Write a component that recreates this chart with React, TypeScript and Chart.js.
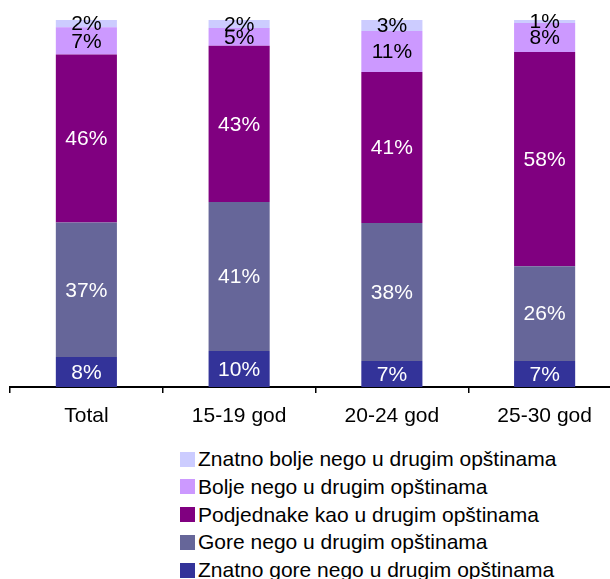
import React, { useEffect, useRef } from "react";
import { Chart, registerables } from "chart.js";

Chart.register(...registerables);

const categories = ["Total", "15-19 god", "20-24 god", "25-30 god"];
const znatnoGore = [8.2, 9.8, 7.1, 7.1];
const gore = [36.6, 40.6, 37.6, 25.8];
const podjednake = [45.8, 42.6, 41.1, 58.4];
const bolje = [7.4, 4.8, 11.2, 7.9];
const znatnoBolje = [2.0, 2.2, 3.0, 0.8];

const seriesNames = [
  "Znatno gore nego u drugim opštinama",
  "Gore nego u drugim opštinama",
  "Podjednake kao u drugim opštinama",
  "Bolje nego u drugim opštinama",
  "Znatno bolje nego u drugim opštinama",
];
const seriesColors = ["#333399", "#666699", "#800080", "#CC99FF", "#CCCCFF"];
const labelColors = ["#ffffff", "#ffffff", "#ffffff", "#000000", "#000000"];

const FONT = '"Liberation Sans", Arial, sans-serif';

const segLabels = {
  id: "segLabels",
  afterDatasetsDraw(chart: any) {
    const ctx = chart.ctx;
    ctx.save();
    ctx.font = `21px ${FONT}`;
    ctx.textAlign = "center";
    ctx.textBaseline = "middle";
    chart.data.datasets.forEach((ds: any, i: number) => {
      const meta = chart.getDatasetMeta(i);
      meta.data.forEach((el: any, j: number) => {
        const v = ds.data[j];
        const p = el.getProps(["x", "y", "base"], true);
        ctx.fillStyle = labelColors[i];
        ctx.fillText(Math.round(v) + "%", p.x, (p.y + p.base) / 2 + 1);
      });
    });
    ctx.restore();
  },
};

export default function App() {
  const ref = useRef<HTMLCanvasElement>(null);

  useEffect(() => {
    const seriesData = [znatnoGore, gore, podjednake, bolje, znatnoBolje];
    const chart = new Chart(ref.current as HTMLCanvasElement, {
      type: "bar",
      data: {
        labels: categories,
        datasets: seriesData.map((d, i) => ({
          label: seriesNames[i],
          data: d,
          backgroundColor: seriesColors[i],
          borderWidth: 0,
          barPercentage: 0.4,
          categoryPercentage: 1.0,
        })),
      },
      options: {
        responsive: false,
        animation: false,
        devicePixelRatio: 1,
        layout: { padding: { left: 10, right: 9, top: 20, bottom: 0 } },
        plugins: {
          legend: { display: false },
          tooltip: { enabled: false },
        },
        scales: {
          x: {
            stacked: true,
            grid: {
              display: true,
              drawOnChartArea: false,
              drawTicks: true,
              tickLength: 6,
              color: "#000000",
              lineWidth: 1.5,
              offset: true,
            },
            border: { display: true, color: "#000000", width: 2 },
            ticks: {
              color: "#000000",
              font: { family: FONT, size: 21 },
              padding: 11,
              maxRotation: 0,
            },
            afterFit: (scale: any) => {
              scale.height = 53;
            },
          },
          y: {
            stacked: true,
            display: false,
            min: 0,
            max: 100,
          },
        },
      },
      plugins: [segLabels],
    });
    return () => chart.destroy();
  }, []);

  const legendOrder = [4, 3, 2, 1, 0];

  return (
    <div
      style={{
        position: "fixed",
        left: 0,
        top: 0,
        width: 610,
        height: 579,
        overflow: "hidden",
        background: "#ffffff",
      }}
    >
      <canvas
        ref={ref}
        width={630}
        height={440}
        style={{ position: "absolute", left: 0, top: 0, width: 630, height: 440 }}
      />
      {legendOrder.map((idx, row) => (
        <div
          key={idx}
          style={{
            position: "absolute",
            left: 180,
            top: 459 + row * 27.75 - 14,
            height: 28,
            display: "flex",
            alignItems: "center",
            whiteSpace: "nowrap",
            fontFamily: FONT,
            fontSize: 21,
            color: "#000000",
          }}
        >
          <span
            style={{
              display: "inline-block",
              width: 15,
              height: 15,
              background: seriesColors[idx],
              marginRight: 3,
            }}
          />
          <span>{seriesNames[idx]}</span>
        </div>
      ))}
    </div>
  );
}
